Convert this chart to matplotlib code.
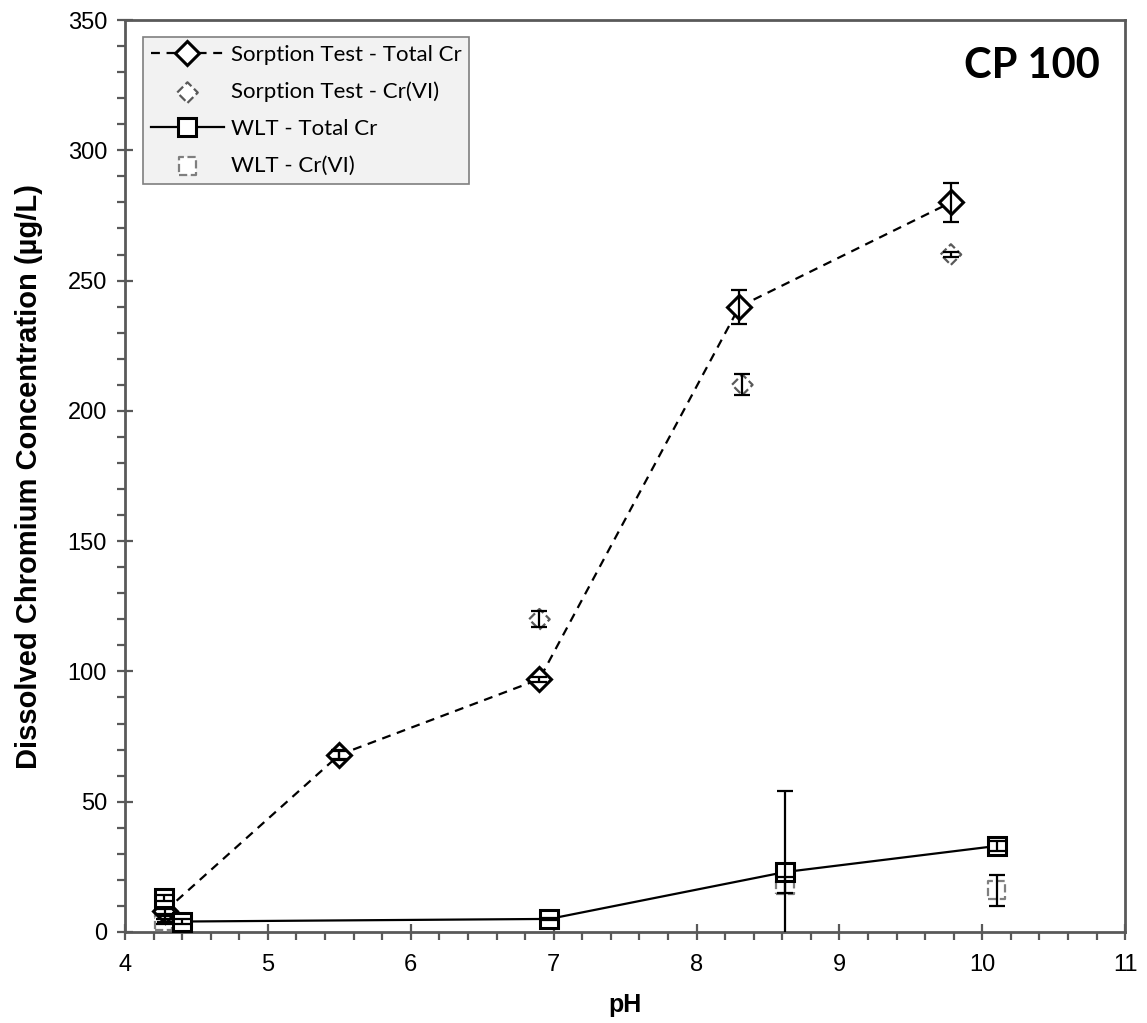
import numpy as np
import matplotlib
matplotlib.use("Agg")
import matplotlib.pyplot as plt
from matplotlib.ticker import MultipleLocator

# Sorption test - total Cr
st_ph = [4.28, 5.5, 6.9, 8.3, 9.78]
st_tot = [8, 68, 97, 240, 280]
st_tot_err = [1, 1.5, 1, 6.5, 7.5]

# Sorption test - Cr(VI)
st6_ph = [4.28, 5.5, 6.9, 8.32, 9.78]
st6 = [5, 68, 120, 210, 260]
st6_err = [1, 2, 3, 4, 1]

# WLT - total Cr
wlt_ph = [4.27, 4.4, 6.97, 8.62, 10.1]
wlt_tot = [13, 4, 5, 23, 33]
wlt_tot_err = [1, 1, 0.5, 31, 2]

# WLT - Cr(VI)
wlt6_ph = [4.27, 8.62, 10.1]
wlt6 = [4, 18, 16]
wlt6_err = [1, 3, 6]

plt.rcParams['font.family'] = ['Liberation Sans', 'DejaVu Sans']

fig = plt.figure(figsize=(11.47, 10.23), dpi=100)
ax = fig.add_axes([0.109, 0.089, 0.872, 0.8914])

# lines
l1, = ax.plot(st_ph, st_tot, color='black', ls=(0, (4, 3)), lw=1.6,
              marker='D', ms=12, mfc='white', mec='black', mew=2.2, zorder=4,
              label='Sorption Test - Total Cr')
l3, = ax.plot(wlt_ph, wlt_tot, color='black', ls='-', lw=1.6,
              marker='s', ms=13, mfc='white', mec='black', mew=2.2, zorder=4,
              label='WLT - Total Cr')

# dashed-edge grey markers
s2 = ax.scatter(st6_ph, st6, marker='D', s=110, facecolors='white',
                edgecolors='#595959', linewidths=1.6, linestyles='--', zorder=3,
                label='Sorption Test - Cr(VI)')
s4 = ax.scatter(wlt6_ph, wlt6, marker='s', s=160, facecolors='white',
                edgecolors='#7f7f7f', linewidths=1.6, linestyles='--', zorder=3,
                label='WLT - Cr(VI)')

# error bars
for x, y, e in [(st_ph, st_tot, st_tot_err), (st6_ph, st6, st6_err),
                (wlt_ph, wlt_tot, wlt_tot_err), (wlt6_ph, wlt6, wlt6_err)]:
    ax.errorbar(x, y, yerr=e, fmt='none', ecolor='black', elinewidth=1.6,
                capsize=6, capthick=1.6, zorder=5)

ax.set_xlim(4, 11)
ax.set_ylim(0, 350)
ax.xaxis.set_major_locator(MultipleLocator(1))
ax.xaxis.set_minor_locator(MultipleLocator(0.2))
ax.yaxis.set_major_locator(MultipleLocator(50))
ax.yaxis.set_minor_locator(MultipleLocator(10))
ax.tick_params(which='major', direction='inout', length=12, width=1.6,
               color='#595959', labelsize=17)
ax.tick_params(axis='x', which='major', pad=10)
ax.tick_params(axis='y', which='major', pad=7)
ax.tick_params(which='minor', direction='out', length=6, width=1.6,
               color='#595959')
for sp in ax.spines.values():
    sp.set_color('#595959')
    sp.set_linewidth(2)

ax.set_xlabel('pH', fontsize=18, fontweight='bold', labelpad=12)
ax.set_ylabel('Dissolved Chromium Concentration (\u00b5g/L)', fontsize=21,
              fontweight='bold', labelpad=18)

ax.text(0.975, 0.95, 'CP 100', transform=ax.transAxes, ha='right', va='center',
        fontsize=30, fontweight='bold', family=['Lato', 'DejaVu Sans'])

leg = ax.legend(handles=[l1, s2, l3, s4], loc='upper left',
                bbox_to_anchor=(0.018, 0.981), borderaxespad=0,
                fancybox=False, framealpha=1,
                facecolor='#f2f2f2', edgecolor='#7f7f7f', handlelength=3.3,
                handletextpad=0.3, labelspacing=0.75, borderpad=0.35,
                prop={'family': ['Lato', 'DejaVu Sans'], 'size': 16})
leg.get_frame().set_linewidth(1.2)

fig.savefig('out.png', dpi=100)
